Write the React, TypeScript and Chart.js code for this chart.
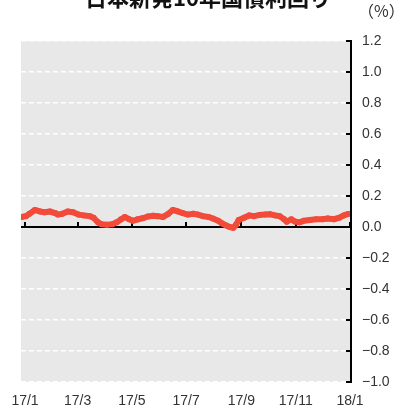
import React, { useEffect, useRef } from "react";
import { Chart, registerables } from "chart.js";

Chart.register(...registerables);

const chartTitle = "日本新発10年国債利回り";
const unitLabel = "（%）";

const dates = [
  "2016-12-28", "2017-01-02", "2017-01-06", "2017-01-12", "2017-01-18", "2017-01-23", "2017-01-29",
  "2017-02-04", "2017-02-07", "2017-02-12", "2017-02-18", "2017-02-24", "2017-03-02", "2017-03-08",
  "2017-03-15", "2017-03-19", "2017-03-24", "2017-03-28", "2017-04-03", "2017-04-09", "2017-04-14",
  "2017-04-19", "2017-04-23", "2017-04-28", "2017-05-02", "2017-05-08", "2017-05-14", "2017-05-19",
  "2017-05-25", "2017-05-30", "2017-06-05", "2017-06-11", "2017-06-16", "2017-06-22", "2017-06-27",
  "2017-07-03", "2017-07-09", "2017-07-14", "2017-07-20", "2017-07-26", "2017-07-31", "2017-08-06",
  "2017-08-10", "2017-08-15", "2017-08-19", "2017-08-23", "2017-08-26", "2017-08-29", "2017-09-04",
  "2017-09-10", "2017-09-15", "2017-09-21", "2017-09-28", "2017-10-03", "2017-10-09", "2017-10-14",
  "2017-10-19", "2017-10-22", "2017-10-27", "2017-10-31", "2017-11-05", "2017-11-10", "2017-11-17",
  "2017-11-24", "2017-12-01", "2017-12-07", "2017-12-14", "2017-12-20", "2017-12-25", "2017-12-30",
];

const yields = [
  0.065, 0.07, 0.085, 0.11, 0.1, 0.095, 0.1,
  0.09, 0.08, 0.085, 0.1, 0.095, 0.08, 0.075,
  0.07, 0.06, 0.03, 0.017, 0.015, 0.018, 0.03,
  0.05, 0.065, 0.05, 0.04, 0.05, 0.058, 0.068,
  0.073, 0.07, 0.065, 0.085, 0.11, 0.1, 0.09,
  0.08, 0.085, 0.08, 0.07, 0.065, 0.055, 0.04,
  0.024, 0.01, 0.0, -0.005, 0.015, 0.045, 0.06,
  0.075, 0.07, 0.077, 0.08, 0.082, 0.075, 0.07,
  0.05, 0.034, 0.05, 0.035, 0.03, 0.04, 0.045,
  0.05, 0.05, 0.055, 0.05, 0.06, 0.075, 0.084,
];

const xTickDates = ["2017-01-01", "2017-03-01", "2017-05-01", "2017-07-01", "2017-09-01", "2017-11-01", "2018-01-01"];
const xTickLabels = ["17/1", "17/3", "17/5", "17/7", "17/9", "17/11", "18/1"];
const yTickValues = [1.2, 1.0, 0.8, 0.6, 0.4, 0.2, 0.0, -0.2, -0.4, -0.6, -0.8, -1.0];

const BASE = Date.UTC(2017, 0, 1);
const toDay = (s: string) => (Date.parse(s + "T00:00:00Z") - BASE) / 86400000;
const xTickDays = xTickDates.map(toDay);

const LINE_COLOR = "#f24b3a";
const LABEL_FONT = "'Liberation Sans', Arial, sans-serif";
const CJK_FONT = "'Noto Sans CJK JP', sans-serif";

const decorPlugin = {
  id: "decor",
  beforeDraw(chart: any) {
    const { ctx, chartArea } = chart;
    ctx.save();
    ctx.fillStyle = "#e8e8e8";
    ctx.fillRect(chartArea.left, chartArea.top, chartArea.right - chartArea.left, chartArea.bottom - chartArea.top);
    ctx.restore();
  },
  beforeDatasetsDraw(chart: any) {
    const { ctx, chartArea, scales } = chart;
    const y0 = Math.round(scales.y.getPixelForValue(0));
    ctx.save();
    ctx.strokeStyle = "#000";
    ctx.lineWidth = 2;
    ctx.beginPath();
    ctx.moveTo(chartArea.left, y0);
    ctx.lineTo(chartArea.right, y0);
    ctx.stroke();
    for (const d of xTickDays) {
      const x = Math.round(scales.x.getPixelForValue(d));
      ctx.beginPath();
      ctx.moveTo(x, y0);
      ctx.lineTo(x, y0 - 5);
      ctx.stroke();
    }
    ctx.restore();
  },
  afterDraw(chart: any) {
    const { ctx, chartArea, scales } = chart;
    ctx.save();
    ctx.strokeStyle = "#000";
    ctx.lineWidth = 2;
    const xr = chartArea.right + 1;
    ctx.beginPath();
    ctx.moveTo(xr, chartArea.top - 1);
    ctx.lineTo(xr, chartArea.bottom + 1);
    ctx.stroke();
    for (const v of yTickValues) {
      const y = Math.round(scales.y.getPixelForValue(v));
      ctx.beginPath();
      ctx.moveTo(xr, y);
      ctx.lineTo(xr - 5, y);
      ctx.stroke();
    }
    ctx.fillStyle = "#111";
    ctx.font = `bold 22px ${CJK_FONT}`;
    ctx.textAlign = "center";
    ctx.textBaseline = "alphabetic";
    ctx.fillText(chartTitle, 208, 6);
    ctx.fillStyle = "#333";
    ctx.font = `16px ${CJK_FONT}`;
    ctx.textAlign = "left";
    ctx.textBaseline = "middle";
    ctx.fillText(unitLabel, 358, 11);
    ctx.restore();
  },
};

const fmt = (v: number) => {
  const s = Math.abs(v).toFixed(1);
  return v < -1e-9 ? "\u2212" + s : s;
};

export default function App() {
  const ref = useRef<HTMLCanvasElement | null>(null);
  useEffect(() => {
    if (!ref.current) return;
    const chart = new Chart(ref.current, {
      type: "line",
      data: {
        datasets: [
          {
            data: dates.map((d, i) => ({ x: toDay(d), y: yields[i] })),
            borderColor: LINE_COLOR,
            backgroundColor: LINE_COLOR,
            borderWidth: 6,
            pointRadius: 3,
            pointBorderWidth: 0,
            pointBackgroundColor: LINE_COLOR,
            tension: 0,
            borderJoinStyle: "round",
            borderCapStyle: "round",
          } as any,
        ],
      },
      plugins: [decorPlugin],
      options: {
        responsive: false,
        animation: false,
        layout: { padding: { left: 21, top: 41, right: 0, bottom: 0 } },
        plugins: { legend: { display: false }, tooltip: { enabled: false }, title: { display: false } },
        scales: {
          x: {
            type: "linear",
            min: -4.5,
            max: 365,
            afterBuildTicks: (s: any) => {
              s.ticks = xTickDays.map((v) => ({ value: v }));
            },
            afterFit: (s: any) => {
              s.height = 26;
            },
            grid: { display: false, drawTicks: false },
            border: { display: false },
            ticks: {
              autoSkip: false,
              maxRotation: 0,
              padding: 11,
              color: "#333",
              font: { family: LABEL_FONT, size: 14 },
              callback: (v: any, i: number) => xTickLabels[i],
            },
          },
          y: {
            position: "right",
            min: -1.0,
            max: 1.2,
            afterBuildTicks: (s: any) => {
              s.ticks = yTickValues.map((v) => ({ value: v }));
            },
            afterFit: (s: any) => {
              s.width = 50;
            },
            grid: { color: "#ffffff", lineWidth: 1.5, drawTicks: false },
            border: { display: false, dash: [5, 3] },
            ticks: {
              padding: 12,
              color: "#333",
              font: { family: LABEL_FONT, size: 14 },
              callback: (v: any) => fmt(Number(v)),
            },
          },
        },
      } as any,
    });
    return () => chart.destroy();
  }, []);
  return (
    <div style={{ position: "fixed", left: 0, top: 0, width: 400, height: 408, background: "#fff" }}>
      <canvas ref={ref} width={400} height={408} style={{ display: "block", width: 400, height: 408 }} />
    </div>
  );
}
